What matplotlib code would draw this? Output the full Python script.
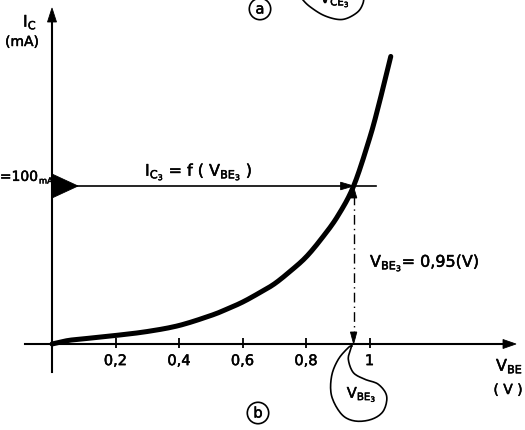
import numpy as np
import matplotlib.pyplot as plt
from matplotlib import transforms
from matplotlib import patheffects
from matplotlib.patches import Polygon

plt.rcParams['font.family'] = 'DejaVu Sans'
plt.rcParams['mathtext.default'] = 'regular'

# Characteristic I_C = f(V_BE), read point by point
vbe = [0, 0.05, 0.1, 0.2, 0.3, 0.4, 0.5, 0.55, 0.6, 0.65, 0.7, 0.75, 0.8,
       0.85, 0.9, 0.95, 1.0, 1.03, 1.067]
ic = [0, 2.2, 3.3, 5.4, 7.9, 11.7, 18, 22, 26.5, 32, 38, 46, 55,
      67, 81, 100, 130, 152, 182]

tick_vals = [0.2, 0.4, 0.6, 0.8, 1.0]
tick_text = ['0,2', '0,4', '0,6', '0,8', '1']

# operating point
v_op = 0.95
i_op = 100

W, H = 525, 430
fig = plt.figure(figsize=(W / 100, H / 100), dpi=100)
ax = fig.add_axes([0, 0, 1, 1])

# origin in pixels and pixels per unit
ox, oy = 52, 344
sx, sy = 317.5, 1.58
ax.set_xlim(-ox / sx, (W - ox) / sx)
ax.set_ylim(-(H - oy) / sy, oy / sy)
ax.axis('off')

# pixel transform (y pointing down) for free labels
img = transforms.Affine2D().scale(1, -1).translate(0, H)
ident = transforms.IdentityTransform()
heavy = [patheffects.withStroke(linewidth=0.35, foreground='k')]


def label(x, y, s, size=11, ha='center', va='center', tr=img, **kw):
    return ax.text(x, y, s, transform=tr, ha=ha, va=va, fontsize=size,
                   path_effects=heavy, **kw)


def head(x, y, dx, dy, length=13, half=4.5, shift=0):
    # filled arrow head with its tip at data point (x, y), pointing along (dx, dy)
    tx, ty = ax.transData.transform((x, y))
    tx += dx * shift
    ty += dy * shift
    nx, ny = -dy, dx
    pts = [(tx, ty),
           (tx - dx * length + nx * half, ty - dy * length + ny * half),
           (tx - dx * length - nx * half, ty - dy * length - ny * half)]
    ax.add_patch(Polygon(pts, closed=True, fc='k', ec='k', lw=0.6,
                         transform=ident))


def spline(pts, n=10):
    # Catmull-Rom through the given points (open curve)
    P = np.array(pts, float)
    P = np.vstack([P[0], P, P[-1]])
    out = []
    for i in range(1, len(P) - 2):
        p0, p1, p2, p3 = P[i - 1], P[i], P[i + 1], P[i + 2]
        for t in np.linspace(0, 1, n, endpoint=False):
            out.append(0.5 * (2 * p1 + (-p0 + p2) * t
                              + (2 * p0 - 5 * p1 + 4 * p2 - p3) * t ** 2
                              + (-p0 + 3 * p1 - 3 * p2 + p3) * t ** 3))
    out.append(P[-1])
    return np.array(out)


# axes with arrows
ax.plot([-27 / sx, (510 - ox) / sx], [0, 0], color='k', lw=1.5)
head((516 - ox) / sx, 0, 1, 0, 13, 4.5)
ax.plot([0, 0], [-(372 - oy) / sy, (oy - 14) / sy], color='k', lw=1.5)
head(0, (oy - 8) / sy, 0, 1, 14, 4.5)

ax.vlines(tick_vals, -2.6, 3.8, color='k', lw=1.3)
for v, t in zip(tick_vals, tick_text):
    label(v, -10.5, t, size=10.5, tr=ax.transData)

# curve, drawn as a smooth line through the read points
disp = ax.transData.transform(np.column_stack([vbe, ic]))
c = spline(disp, n=12)
ax.plot(c[:, 0], c[:, 1], color='k', lw=3.6, solid_joinstyle='round',
        solid_capstyle='round', transform=ident)

# I_C3 = 100 mA : marker on axis and horizontal arrow to the curve
head(0, i_op, 1, 0, 26, 12, shift=26)
ax.plot([0, v_op + 0.07], [i_op, i_op], color='k', lw=1.2)
head(v_op, i_op, 1, 0, 13, 3.8)

# projection down to V_BE3
ax.plot([v_op, v_op], [i_op - 6, 4], color='k', lw=1.0,
        linestyle=(0, (7, 3, 1, 3)))
head(v_op, i_op, 0, 1, 11, 3.2, shift=-1)
head(v_op, 0, 0, -1, 12, 3.2)

# labels
label(30, 22, r'$I_C$', size=11.5)
label(22, 42, '(mA)', size=10)
label(496, 366, r'$V_{BE}$', size=11.5, ha='left')
label(508, 390, '( V )', size=10)
label(39, 178, r'$I_{C_3}$=100', size=10, ha='right')
label(39, 181, 'mA', size=6, ha='left')
label(145, 172, r'$I_{C_3}$ = f ( $V_{BE_3}$ )', size=11.5, ha='left')
label(370, 263, r'$V_{BE_3}$= 0,95(V)', size=11.5, ha='left')

# balloon under the axis pointing at V_BE3
tx, ty = ax.transData.transform((v_op, 0))
outline = [(0, 0), (-1, 3.3), (-3.3, 13.3), (1.7, 26.6), (13.3, 33.3),
           (26.7, 38.3), (35, 50), (31.7, 65), (20, 73.3), (3.3, 75),
           (-10, 68.3), (-20, 50), (-20, 30), (-13.3, 13.3), (-3.3, 1.6),
           (0, 0)]
b = spline(outline)
ax.plot(tx - 2 + b[:, 0], ty - 2 - b[:, 1], color='k', lw=1.2,
        transform=ident)
label(tx + 8, ty - 50, r'$V_{BE_3}$', size=10.5, tr=ident)

# top balloon (partly outside)
top = spline([(300, -5), (303, 0), (310, 6.7), (323, 15), (337, 19.3),
              (347, 18.3), (358, 11.7), (363, 3.3), (364, -5)])
ax.plot(top[:, 0], top[:, 1], color='k', lw=1.2, transform=img)
label(335, 3, r'$V_{CE_3}$', size=10.5, va='baseline')

# circled part letters
for (x, y, s) in [(260, 9, 'a'), (258, 413, 'b')]:
    label(x, y, s, size=10.5,
          bbox=dict(boxstyle='circle,pad=0.22', fc='none', ec='k', lw=1.2))

fig.savefig('out.png', dpi=100)
